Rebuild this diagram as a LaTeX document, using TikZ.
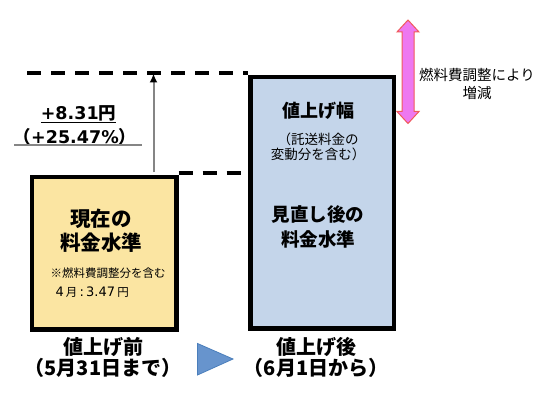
\documentclass[tikz,border=0pt]{standalone}
\usepackage{fontspec}
\setmainfont{Noto Sans CJK JP}
\newfontfamily\latn{DejaVu Sans}
\usetikzlibrary{arrows.meta}
\definecolor{boxyellow}{HTML}{FBE5A2}
\definecolor{boxblue}{HTML}{C4D5EA}
\definecolor{arrowpink}{HTML}{EE78F0}
\definecolor{arrowedge}{HTML}{F05A5A}
\definecolor{trifill}{HTML}{6794CD}
\definecolor{triedge}{HTML}{4A7EBB}
\definecolor{linegray}{HTML}{858585}
\begin{document}
\begin{tikzpicture}[x=1pt,y=-1pt,
  levelbox/.style={draw=black, line width=4.5pt, anchor=north west, inner sep=0pt},
  levelline/.style={line width=4.3pt, dash pattern=on 14pt off 10pt},
  txt/.style={inner sep=0pt, align=center, text=black},
  pinkarrow/.style={draw=arrowedge, fill=arrowpink, line width=1pt, line join=miter},
  nexttri/.style={draw=triedge, fill=trifill, line width=0.8pt, line join=miter}
]
\useasboundingbox (0,0) rectangle (549,403);
% boxes
\node[levelbox, fill=boxyellow, minimum width=144.5pt, minimum height=152.8pt] (before) at (29.7,174.7) {};
\node[levelbox, fill=boxblue, minimum width=143.5pt, minimum height=251.6pt] (after) at (248,74.7) {};
% dashed level lines
\coordinate (topstart) at (27,73.3);
\coordinate (lowend) at (after.west |- 0,173.3);
\coordinate (lowstart) at (before.north east |- 0,173.3);
\draw[levelline] (topstart) -- (after.north west |- topstart);
\draw[levelline] (lowstart) -- (lowend);
% gray rise arrow
\coordinate (risebot) at (153.5,172.5);
\coordinate (risetop) at (153.5,73.5);
\draw[linegray, line width=2pt, -{Latex[black,length=9pt,width=8pt]}] (risebot) -- (risetop);
% increase label
\node[txt, font=\bfseries\fontsize{17.5}{17.5}\selectfont] (inc) at (78.5,114.5) {\underline{{\latn +8.31}円}};
\node[txt, font=\bfseries\fontsize{17.5}{17.5}\selectfont] (pct) at (75,137) {（{\latn +25.47\%}）};
\coordinate (ulstart) at (14,145);
\coordinate (ulend) at (142,145);
\draw[linegray, line width=1.5pt] (ulstart) -- (ulend);
% left box texts
\node[txt, font=\bfseries\fontsize{20.5}{24}\selectfont] (beforetitle) at (101,231) {現在の\\料金水準};
\node[txt, font=\fontsize{11.5}{19}\selectfont, align=left] (beforenote) at (108,282.5) {※燃料費調整分を含む\\\hspace{5pt}{\latn\fontsize{13}{19}\selectfont 4\,}月{\latn\fontsize{13}{19}\selectfont\,:\,3.47\,}円};
% right box texts
\node[txt, font=\bfseries\fontsize{18}{18}\selectfont] (upwidth) at (318,111) {値上げ幅};
\node[txt, font=\fontsize{13.5}{15}\selectfont] (upnote) at (318,146.5) {（託送料金の\\変動分を含む）};
\node[txt, font=\bfseries\fontsize{18.5}{25}\selectfont] (aftertitle) at (318,226.5) {見直し後の\\料金水準};
% pink double arrow (drawn directly)
\draw[pinkarrow] (408,20) -- (419,32) -- (414,32) -- (414,111.5) -- (419,111.5) -- (408,123.5)
  -- (397,111.5) -- (402,111.5) -- (402,32) -- (397,32) -- cycle;
\node[txt, font=\fontsize{14.5}{18}\selectfont] (fueltext) at (477,84) {燃料費調整により\\増減};
% bottom labels
\node[txt, font=\bfseries\fontsize{20}{21}\selectfont] (prelabel) at (103,357.5) {値上げ前\\（5月31日まで）};
\node[txt, font=\bfseries\fontsize{20}{21}\selectfont] (postlabel) at (316,357.5) {値上げ後\\（6月1日から）};
% blue triangle (drawn directly)
\draw[nexttri] (197.5,343.5) -- (233,359) -- (197.5,375) -- cycle;
\end{tikzpicture}
\end{document}
